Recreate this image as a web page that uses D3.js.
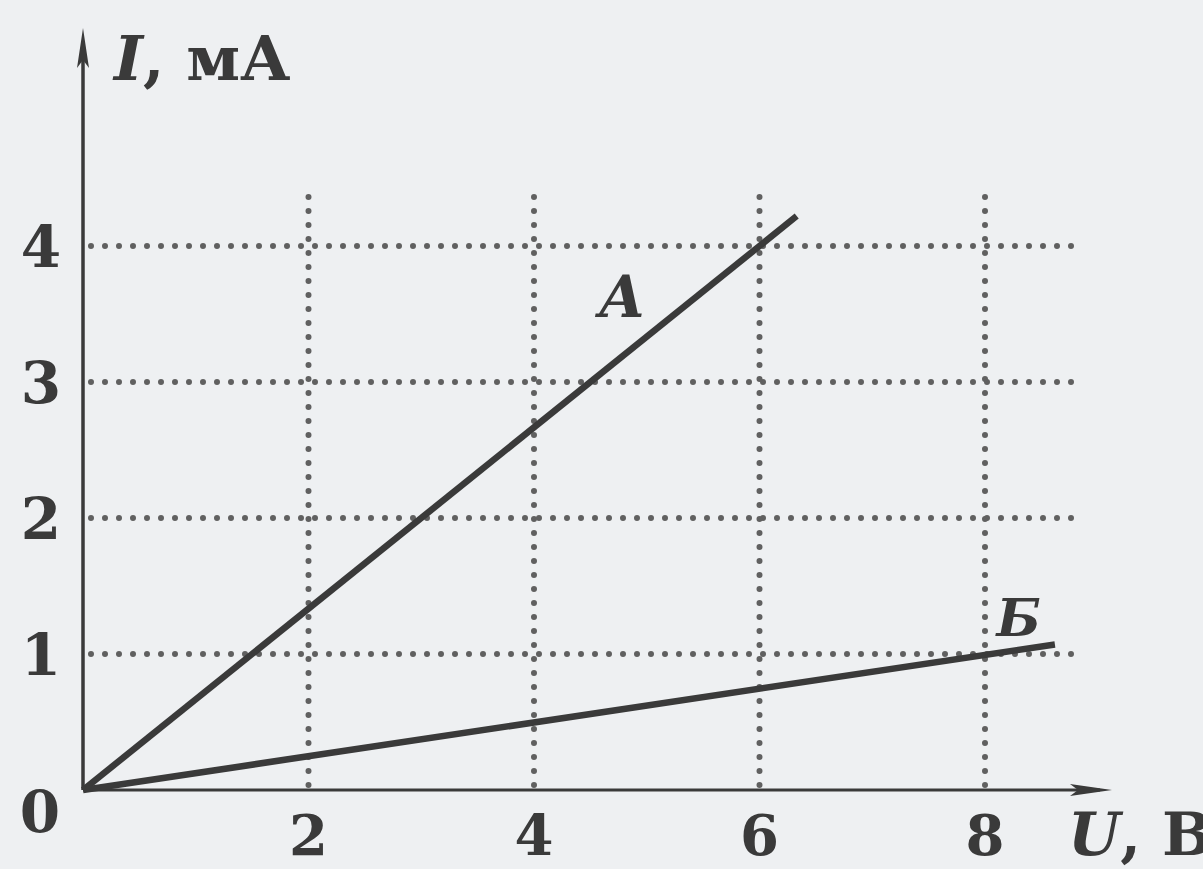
<!DOCTYPE html>
<html>
<head>
<meta charset="utf-8">
<script src="https://cdn.jsdelivr.net/npm/d3@7"></script>
<style>
  body { margin: 0; background: #eef0f2; }
  svg { display: block; }
  text { font-family: "DejaVu Serif", serif; font-weight: bold; fill: #3a3a3a; }
</style>
</head>
<body>
<svg width="1203" height="869"></svg>
<script>
// tick values on both axes
const xTicks = [2, 4, 6, 8];
const yTicks = [1, 2, 3, 4];

// the two lines, I (mA) against U (V)
const lineA = [{u: 0, i: 0}, {u: 6.33, i: 4.22}];
const lineB = [{u: 0, i: 0}, {u: 8.62, i: 1.07}];

const svg = d3.select('svg');

const x = d3.scaleLinear().domain([0, 8]).range([83, 985]);
const y = d3.scaleLinear().domain([0, 4]).range([790, 246]);

const ink = '#3a3a3a';

svg.append('rect').attr('width', 1203).attr('height', 869).attr('fill', '#eef0f2');

// dotted grid
const grid = svg.append('g')
  .attr('stroke', '#606060')
  .attr('stroke-width', 6)
  .attr('stroke-linecap', 'round')
  .attr('stroke-dasharray', '0 14');

grid.selectAll('.h')
  .data(yTicks)
  .enter()
  .append('line')
  .attr('x1', x(0) + 8).attr('x2', 1072)
  .attr('y1', d => y(d)).attr('y2', d => y(d));

grid.selectAll('.v')
  .data(xTicks)
  .enter()
  .append('line')
  .attr('x1', d => x(d)).attr('x2', d => x(d))
  .attr('y1', 197).attr('y2', y(0));

// axes with arrows
svg.append('line')
  .attr('x1', x(0)).attr('x2', 1100)
  .attr('y1', y(0)).attr('y2', y(0))
  .attr('stroke', ink).attr('stroke-width', 3);
svg.append('path')
  .attr('d', `M1112,${y(0)} L1070,${y(0) - 6} L1078,${y(0)} L1070,${y(0) + 6} Z`)
  .attr('fill', ink);

svg.append('line')
  .attr('x1', x(0)).attr('x2', x(0))
  .attr('y1', y(0)).attr('y2', 45)
  .attr('stroke', ink).attr('stroke-width', 3.5);
svg.append('path')
  .attr('d', `M${x(0)},28 L${x(0) - 6},68 L${x(0)},60 L${x(0) + 6},68 Z`)
  .attr('fill', ink);

// data lines
const line = d3.line().x(d => x(d.u)).y(d => y(d.i));
[lineA, lineB].forEach(data => {
  svg.append('path')
    .datum(data)
    .attr('d', line)
    .attr('fill', 'none')
    .attr('stroke', ink)
    .attr('stroke-width', 6.5);
});

// tick labels
svg.selectAll('.xt')
  .data(xTicks)
  .enter()
  .append('text')
  .attr('x', d => x(d))
  .attr('y', 855)
  .attr('text-anchor', 'middle')
  .attr('font-size', 56)
  .text(d => d);

svg.selectAll('.yt')
  .data(yTicks)
  .enter()
  .append('text')
  .attr('x', 41)
  .attr('y', d => y(d) + 21)
  .attr('text-anchor', 'middle')
  .attr('font-size', 58)
  .text(d => d);

svg.append('text')
  .attr('x', 40).attr('y', 832)
  .attr('text-anchor', 'middle')
  .attr('font-size', 58)
  .text('0');

// axis titles
const it = svg.append('text').attr('x', 114).attr('y', 80).attr('font-size', 62);
it.append('tspan').attr('font-style', 'italic').text('I');
it.append('tspan').text(', мА');

const ut = svg.append('text').attr('x', 1068).attr('y', 855).attr('font-size', 60);
ut.append('tspan').attr('font-style', 'italic').text('U');
ut.append('tspan').text(', В');

// line names
svg.append('text')
  .attr('x', x(4.78)).attr('y', y(3.48))
  .attr('text-anchor', 'middle')
  .attr('font-style', 'italic')
  .attr('font-size', 58)
  .text('A');

svg.append('text')
  .attr('x', x(8.3)).attr('y', y(1.13))
  .attr('text-anchor', 'middle')
  .attr('font-style', 'italic')
  .attr('font-size', 52)
  .text('Б');
</script>
</body>
</html>
